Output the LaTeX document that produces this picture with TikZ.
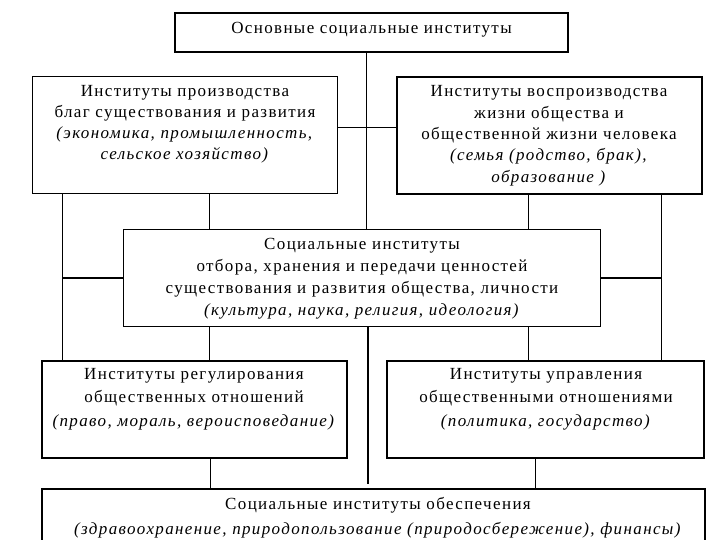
\documentclass[tikz,border=0pt]{standalone}
\usepackage{fontspec}
\setmainfont{Liberation Serif}[LetterSpace=8]
\begin{document}
\begin{tikzpicture}[x=1pt,y=-1pt,
  box/.style={draw=black, inner sep=0pt, line width=1pt},
  txt/.style={anchor=north, inner sep=0pt, align=center},
  conn/.style={draw=black, line width=1pt},
  heavy/.style={draw=black, line width=2.2pt}]
\useasboundingbox (0,0) rectangle (720,540);
% boxes
\node[box, line width=1.3pt, minimum width=393pt, minimum height=39pt] (top) at (371.5,32.5) {};
\node[box, minimum width=305pt, minimum height=117pt] (L1) at (184.5,135.5) {};
\node[box, line width=1.8pt, minimum width=305pt, minimum height=117pt] (R1) at (549.5,135.5) {};
\node[box, minimum width=477pt, minimum height=96pt] (M) at (361.5,278) {};
\node[box, line width=1.5pt, minimum width=305pt, minimum height=97pt] (BL) at (194.5,409.5) {};
\node[box, line width=1.5pt, minimum width=317pt, minimum height=97pt] (BR) at (545.5,409.5) {};
\node[box, line width=1.3pt, minimum width=663pt, minimum height=81pt] (B) at (373.5,529.5) {};
% texts
\node[txt, font=\fontsize{17}{21}\selectfont] (ttop) at (371.5,22.5) {Основные социальные институты};
\node[txt, font=\fontsize{17}{21}\selectfont] (tL1) at (185,85.5) {Институты производства\\благ существования и развития\\\textit{(экономика, промышленность,}\\\textit{сельское хозяйство)}};
\node[txt, font=\fontsize{17}{21.3}\selectfont] (tR1) at (549,85.5) {Институты воспроизводства\\жизни общества и\\общественной жизни человека\\\textit{(семья (родство, брак),}\\\textit{образование )}};
\node[txt, font=\fontsize{17}{21.7}\selectfont] (tM) at (362,238.5) {Социальные институты\\отбора, хранения и передачи ценностей\\существования и развития общества, личности\\\textit{(культура, наука, религия, идеология)}};
\node[txt, font=\fontsize{17}{23.5}\selectfont] (tBL) at (194,368) {Институты регулирования\\общественных отношений\\\textit{(право, мораль, вероисповедание)}};
\node[txt, font=\fontsize{17}{23.5}\selectfont] (tBR) at (546,368) {Институты управления\\общественными отношениями\\\textit{(политика, государство)}};
\node[txt, font=\fontsize{17}{25}\selectfont] (tB) at (378,497) {Социальные институты обеспечения\\\textit{(здравоохранение, природопользование (природосбережение), финансы)}};
% helper coordinates
\coordinate (xa) at (62,0);
\coordinate (xb) at (209,0);
\coordinate (xc) at (366,0);
\coordinate (xd) at (528,0);
\coordinate (xe) at (661,0);
\coordinate (xg) at (210,0);
\coordinate (xh) at (535,0);
\coordinate (yh) at (0,128);
\coordinate (vend) at (368,484);
% connectors
\draw[conn] (top.south -| xc) -- (M.north -| xc);
\draw[conn] (L1.east |- yh) -- (R1.west |- yh);
\draw[conn] (L1.south -| xa) -- (BL.north -| xa);
\draw[conn] (L1.south -| xb) -- (M.north -| xb);
\draw[conn] (M.south -| xb) -- (BL.north -| xb);
\draw[conn] (R1.south -| xd) -- (M.north -| xd);
\draw[conn] (M.south -| xd) -- (BR.north -| xd);
\draw[conn] (R1.south -| xe) -- (BR.north -| xe);
\draw[heavy] (M.west) -- (M.west -| xa);
\draw[heavy] (M.east) -- (M.east -| xe);
\draw[heavy] (M.south -| vend) -- (vend);
\draw[conn] (BL.south -| xg) -- (B.north -| xg);
\draw[conn] (BR.south -| xh) -- (B.north -| xh);
\end{tikzpicture}
\end{document}
